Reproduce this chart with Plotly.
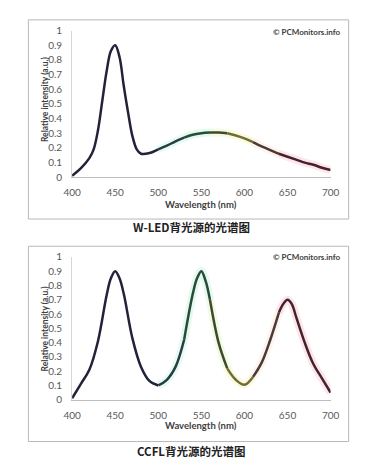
import plotly.graph_objects as go

# ---------------- data ----------------
wled_wavelength = [400, 410, 420, 425, 430, 435, 440, 445, 450, 455, 460, 465, 470, 475, 480,
                   490, 500, 510, 520, 530, 540, 550, 560, 570, 580, 590, 600, 610, 620, 630,
                   640, 650, 660, 670, 680, 690, 700]
wled_intensity = [0.01, 0.06, 0.13, 0.19, 0.32, 0.52, 0.72, 0.86, 0.90, 0.82, 0.62, 0.44, 0.28, 0.19, 0.16,
                  0.165, 0.19, 0.215, 0.245, 0.27, 0.29, 0.30, 0.305, 0.305, 0.30, 0.285, 0.265, 0.24, 0.21, 0.185,
                  0.16, 0.14, 0.12, 0.10, 0.085, 0.065, 0.05]

ccfl_wavelength = [400, 410, 420, 430, 440, 445, 450, 455, 460, 470, 480, 490, 500, 510, 520, 530, 540,
                   545, 550, 555, 560, 570, 580, 590, 600, 610, 620, 630, 640, 645, 650, 655, 660,
                   670, 680, 690, 700]
ccfl_intensity = [0.01, 0.11, 0.21, 0.41, 0.73, 0.85, 0.90, 0.85, 0.74, 0.43, 0.23, 0.13, 0.10, 0.14, 0.23, 0.42, 0.74,
                  0.85, 0.90, 0.83, 0.70, 0.40, 0.22, 0.14, 0.105, 0.16, 0.26, 0.42, 0.61, 0.67, 0.70, 0.67, 0.58,
                  0.40, 0.25, 0.15, 0.05]

x_ticks = [400, 450, 500, 550, 600, 650, 700]
y_ticks = [0, 0.1, 0.2, 0.3, 0.4, 0.5, 0.6, 0.7, 0.8, 0.9, 1]
y_tick_labels = ["0", "0.1", "0.2", "0.3", "0.4", "0.5", "0.6", "0.7", "0.8", "0.9", "1"]
captions = ["W-LED背光源的光谱图", "CCFL背光源的光谱图"]
watermark = "© PCMonitors.info"
x_title = "Wavelength (nm)"
y_title = "Relative intensity (a.u.)"

# ---------------- style ----------------
PAGE_W, PAGE_H = 370, 466
BODY_MARGIN = 8          # default page margin around the plot div
W, H = PAGE_W - BODY_MARGIN, PAGE_H - BODY_MARGIN

# colour zones along the spectrum: (from nm, to nm, core colour, glow colour)
zones = [
    (400, 500, "#22223a", None),
    (500, 530, "#24403f", "rgba(40,200,180,0.10)"),
    (530, 560, "#2a4a3a", "rgba(60,220,140,0.14)"),
    (560, 580, "#3e4a30", "rgba(180,230,80,0.16)"),
    (580, 610, "#6e6e3a", "rgba(235,230,90,0.20)"),
    (610, 640, "#4a3a38", "rgba(250,170,130,0.14)"),
    (640, 700, "#44222e", "rgba(240,100,120,0.16)"),
]

# panel geometry in page pixels
panels = [
    dict(box=(20, 13, 357, 218), plot=(66, 24, 338, 175), caption_y=226, wm_y=25,
         xt_y=203, yt_y=95, ax="x", ay="y"),
    dict(box=(20, 246, 357, 447), plot=(66, 257, 338, 404), caption_y=457, wm_y=257,
         xt_y=431, yt_y=331, ax="x2", ay="y2"),
]


def fx(px):
    return (px - BODY_MARGIN) / W


def fy(py):
    return 1 - (py - BODY_MARGIN) / H


FONT = "Lato, 'Open Sans', sans-serif"
CJK = "'Noto Sans CJK SC', sans-serif"

fig = go.Figure()
series = [(wled_wavelength, wled_intensity), (ccfl_wavelength, ccfl_intensity)]

for p, (wl, val) in zip(panels, series):
    # soft glows first
    for lo, hi, core, glow in zones:
        xs = [w for w in wl if lo <= w <= hi]
        ys = [v for w, v in zip(wl, val) if lo <= w <= hi]
        if glow:
            fig.add_trace(go.Scatter(x=xs, y=ys, mode="lines", xaxis=p["ax"], yaxis=p["ay"],
                                     line=dict(color=glow, width=8, shape="spline", smoothing=1.0),
                                     hoverinfo="skip", showlegend=False))
    for lo, hi, core, glow in zones:
        xs = [w for w in wl if lo <= w <= hi]
        ys = [v for w, v in zip(wl, val) if lo <= w <= hi]
        fig.add_trace(go.Scatter(x=xs, y=ys, mode="lines", xaxis=p["ax"], yaxis=p["ay"],
                                 line=dict(color=core, width=2.5, shape="spline", smoothing=1.0),
                                 hoverinfo="skip", showlegend=False))

shapes = []
annotations = []
layout_axes = {}
for i, p in enumerate(panels):
    x0, y0, x1, y1 = p["box"]
    shapes.append(dict(type="rect", xref="paper", yref="paper",
                       x0=fx(x0), x1=fx(x1), y0=fy(y1), y1=fy(y0),
                       line=dict(color="#b8b8b8", width=1), fillcolor="rgba(0,0,0,0)", layer="below"))
    l, t, r, b = p["plot"]
    suffix = "" if i == 0 else "2"
    layout_axes["xaxis" + suffix] = dict(
        domain=[fx(l), fx(r)], range=[400, 700], anchor="y" + suffix,
        tickvals=x_ticks, ticktext=[str(v) for v in x_ticks],
        showline=True, linecolor="#bdbdbd", linewidth=1,
        ticks="outside", ticklen=6, tickcolor="rgba(0,0,0,0)",
        showgrid=False, zeroline=False,
        tickfont=dict(family=FONT, size=10, color="#595959"),
    )
    layout_axes["yaxis" + suffix] = dict(
        domain=[fy(b), fy(t)], range=[0, 1], anchor="x" + suffix,
        tickvals=y_ticks, ticktext=y_tick_labels,
        showline=True, linecolor="#d6d6d6", linewidth=1,
        ticks="outside", ticklen=7, tickcolor="rgba(0,0,0,0)",
        showgrid=False, zeroline=False,
        tickfont=dict(family=FONT, size=10, color="#595959"),
    )
    annotations.append(dict(text="<b>" + x_title + "</b>", xref="paper", yref="paper",
                            x=fx((l + r) / 2), y=fy(p["xt_y"]), showarrow=False,
                            font=dict(family=FONT, size=9.5, color="#404040"),
                            xanchor="center", yanchor="middle"))
    annotations.append(dict(text="<b>" + y_title + "</b>", xref="paper", yref="paper",
                            x=fx(37), y=fy(p["yt_y"]), showarrow=False, textangle=-90,
                            font=dict(family=FONT, size=8.5, color="#404040"),
                            xanchor="center", yanchor="middle"))
    annotations.append(dict(text="<b>" + watermark + "</b>", xref="paper", yref="paper",
                            x=fx(351), y=fy(p["wm_y"]), showarrow=False,
                            font=dict(family=FONT, size=8, color="#404040"),
                            xanchor="right", yanchor="middle"))
    annotations.append(dict(text="<b>" + captions[i] + "</b>", xref="paper", yref="paper",
                            x=fx(192), y=fy(p["caption_y"]), showarrow=False,
                            font=dict(family=CJK, size=11.5, color="#222222"),
                            xanchor="center", yanchor="middle"))

fig.update_layout(
    width=W, height=H, autosize=False,
    margin=dict(l=0, r=0, t=0, b=0),
    paper_bgcolor="white", plot_bgcolor="white",
    showlegend=False,
    shapes=shapes, annotations=annotations,
    **layout_axes,
)

fig.write_html("out.html")
